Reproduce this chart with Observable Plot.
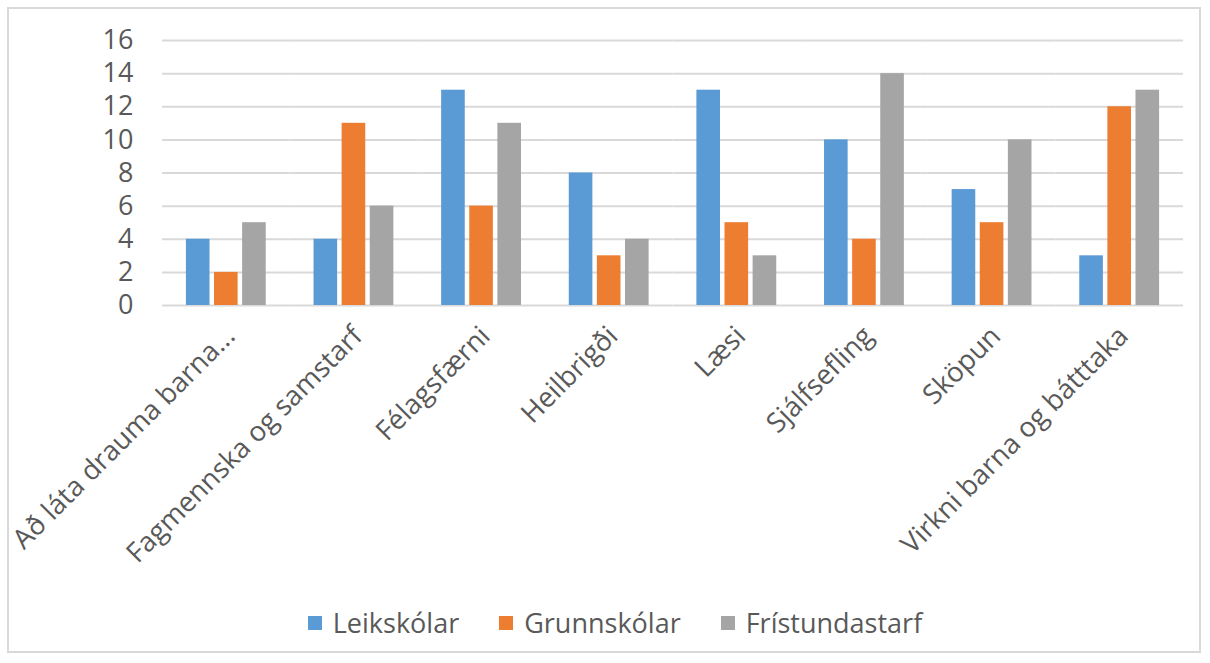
<!DOCTYPE html>
<html>
<head>
<meta charset="utf-8">
<script src="https://cdn.jsdelivr.net/npm/d3@7"></script>
<script src="https://cdn.jsdelivr.net/npm/@observablehq/plot@0.6"></script>
<style>
  html, body { margin: 0; padding: 0; background: #fff; }
  body { width: 1210px; height: 663px; position: relative; overflow: hidden; font-family: "Open Sans", sans-serif; }
  #frame { position: absolute; left: 7px; top: 7px; width: 1194px; height: 646px; border: 2px solid #D9D9D9; box-sizing: border-box; }
  #chart { position: absolute; left: 0; top: 0; }
  #legend { position: absolute; left: 0; top: 604px; width: 1230px; display: flex; justify-content: center; gap: 40px; font-size: 27px; color: #595959; }
  #legend .item { display: flex; align-items: center; }
  #legend .sw { width: 14px; height: 14px; margin-right: 11px; }
</style>
</head>
<body>
<div id="frame"></div>
<div id="chart"></div>
<div id="legend"></div>
<script>
const categories = ["Að láta drauma barna...", "Fagmennska og samstarf", "Félagsfærni", "Heilbrigði", "Læsi", "Sjálfsefling", "Sköpun", "Virkni barna og bátttaka"];
const series = ["Leikskólar", "Grunnskólar", "Frístundastarf"];
const leikskolar = [4, 4, 13, 8, 13, 10, 7, 3];
const grunnskolar = [2, 11, 6, 3, 5, 4, 5, 12];
const fristundastarf = [5, 6, 11, 4, 3, 14, 10, 13];
const colors = ["#5B9BD5", "#ED7D31", "#A5A5A5"];
const yTicks = [0, 2, 4, 6, 8, 10, 12, 14, 16];

const values = [leikskolar, grunnskolar, fristundastarf];
const data = [];
categories.forEach((c, i) => series.forEach((s, j) => data.push({cat: c, series: s, value: values[j][i]})));

const chart = Plot.plot({
  width: 1210,
  height: 590,
  marginTop: 40,
  marginBottom: 285,
  marginLeft: 162,
  marginRight: 27,
  style: {fontFamily: "'Open Sans', sans-serif", fontSize: "27px", color: "#595959", background: "transparent"},
  fx: {domain: categories, padding: 0, round: false},
  x: {domain: series, paddingInner: 0.16, paddingOuter: 0.85, round: false, axis: null},
  y: {domain: [0, 16], axis: null},
  color: {domain: series, range: colors},
  marks: [
    Plot.ruleY(yTicks, {stroke: "#D9D9D9", strokeWidth: 2}),
    Plot.barY(data, {fx: "cat", x: "series", y: "value", fill: "series", inset: 0}),
    Plot.axisY({ticks: yTicks, tickSize: 0, tickPadding: 29, fill: "#595959", fontSize: 27, label: null}),
    Plot.axisFx({anchor: "bottom", tickSize: 0, tickRotate: -45, tickPadding: 14, dx: 4, dy: 12, fill: "#595959", fontSize: 27.5, label: null})
  ]
});
document.getElementById("chart").appendChild(chart);

const legend = document.getElementById("legend");
series.forEach((s, i) => {
  const item = document.createElement("div");
  item.className = "item";
  const sw = document.createElement("span");
  sw.className = "sw";
  sw.style.background = colors[i];
  const t = document.createElement("span");
  t.textContent = s;
  item.appendChild(sw);
  item.appendChild(t);
  legend.appendChild(item);
});
</script>
</body>
</html>
